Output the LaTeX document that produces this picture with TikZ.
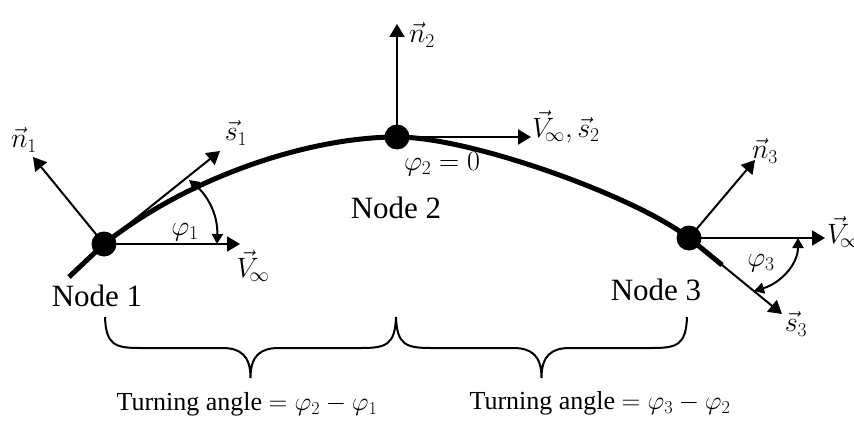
\RequirePackage{fix-cm}
\documentclass[tikz,border=0pt]{standalone}
\usepackage{fontspec}
\setmainfont{Liberation Serif}
\usetikzlibrary{arrows.meta}
\begin{document}
\begin{tikzpicture}[x=1pt,y=-1pt,
  curve/.style={line width=5pt},
  vec/.style={line width=2pt,-{Triangle[length=13pt,width=15pt]}},
  angarc/.style={line width=2pt,{Triangle[length=10pt,width=11pt]}-{Triangle[length=10pt,width=11pt]}},
  dot/.style={circle,fill=black,inner sep=0pt,minimum size=25pt},
  lab/.style={inner sep=0pt,font=\fontsize{28}{32}\selectfont},
  nodelab/.style={inner sep=0pt,font=\fontsize{31}{36}\selectfont},
  turnlab/.style={inner sep=0pt,font=\fontsize{26}{30}\selectfont},
  cbrace/.style={line width=2pt},
  pics/curlybrace/.style={code={
    \draw[cbrace] (-145.5,0) .. controls (-144.5,28) and (-135.5,31) .. (-110.5,31)
      -- (-28.5,31) .. controls (-10.5,31) and (0,38) .. (0,61)
      .. controls (0,38) and (10.5,31) .. (28.5,31) -- (110.5,31)
      .. controls (135.5,31) and (144.5,28) .. (145.5,0);
  }}]
\path[use as bounding box, clip] (0,0) rectangle (854,428);

% nodes (dots)
\coordinate (c1) at (104,244);
\coordinate (c2) at (397,137);
\coordinate (c3) at (689,238);
\coordinate (cstart) at (69,277);
\coordinate (cend) at (722,265);

% the curve
\draw[curve] (cstart) -- (c1)
  .. controls (190,176) and (310,137) .. (c2)
  .. controls (470,137) and (635,196) .. (c3) -- (cend);

\node[dot] (n1) at (c1) {};
\node[dot] (n2) at (c2) {};
\node[dot] (n3) at (c3) {};

% vector tips
\coordinate (n1tip) at (33,157);
\coordinate (s1tip) at (220,151);
\coordinate (v1tip) at (240,244);
\coordinate (n2tip) at (397,24);
\coordinate (v2tip) at (531,137);
\coordinate (n3tip) at (755,160);
\coordinate (v3tip) at (825,238);
\coordinate (s3tip) at (782,314);

\draw[vec] (n1.center) -- (n1tip);
\draw[vec] (n1.center) -- (s1tip);
\draw[vec] (n1.center) -- (v1tip);
\draw[vec] (n2.center) -- (n2tip);
\draw[vec] (n2.center) -- (v2tip);
\draw[vec] (n3.center) -- (n3tip);
\draw[vec] (n3.center) -- (v3tip);
\draw[vec] (n3.center) -- (s3tip);

% angle arcs
\coordinate (a1s) at (217,244);
\coordinate (a1e) at (189,180);
\draw[angarc] (a1s) .. controls (218,214) and (207,195) .. (a1e);
\coordinate (a3s) at (798,238);
\coordinate (a3e) at (754,291);
\draw[angarc] (a3s) .. controls (798,264) and (781,283) .. (a3e);

% labels
\node[lab] (ln1) at (24,140) {$\vec{n}_1$};
\node[lab] (ls1) at (236,133) {$\vec{s}_1$};
\node[lab] (lphi1) at (185,232) {$\varphi_1$};
\node[lab] (lv1) at (253,266) {$\vec{V}_{\!\infty}$};
\node[nodelab] (lnode1) at (97,296) {Node 1};

\node[lab] (ln2) at (422,35) {$\vec{n}_2$};
\node[lab,anchor=west] (lv2) at (532,127) {$\vec{V}_{\!\infty}, \vec{s}_2$};
\node[lab] (lphi2) at (442,164) {$\varphi_2 = 0$};
\node[nodelab] (lnode2) at (396,208) {Node 2};

\node[lab] (ln3) at (765,151) {$\vec{n}_3$};
\node[lab,anchor=west] (lv3) at (827,232) {$\vec{V}_{\!\infty}$};
\node[lab] (lphi3) at (761,263) {$\varphi_3$};
\node[nodelab] (lnode3) at (656,290) {Node 3};
\node[lab] (ls3) at (796,324) {$\vec{s}_3$};

% braces
\pic at (250.5,317) {curlybrace};
\pic at (541.5,317) {curlybrace};

\node[turnlab] (t1) at (247,404) {Turning angle $=\varphi_2-\varphi_1$};
\node[turnlab] (t2) at (600,403) {Turning angle $=\varphi_3-\varphi_2$};
\end{tikzpicture}
\end{document}
